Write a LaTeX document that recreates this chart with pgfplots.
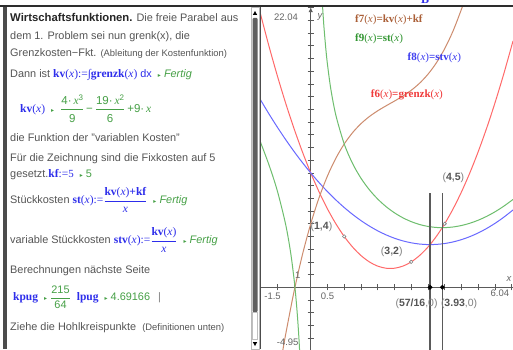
\documentclass[border=0pt]{standalone}
\usepackage{pgfplots}
\pgfplotsset{compat=1.18}
\usetikzlibrary{arrows.meta}
\usepackage{fontspec}
\setmainfont{Liberation Sans}
\newfontfamily\tiserif{Liberation Serif}
\newfontfamily\dejavu{DejaVu Sans}
\definecolor{tigray}{RGB}{85,85,85}
\definecolor{axgray}{RGB}{90,90,90}
\definecolor{tiblue}{RGB}{45,45,235}
\definecolor{tigreen}{RGB}{70,160,70}
\definecolor{cred}{RGB}{255,105,105}
\definecolor{cblue}{RGB}{105,105,255}
\definecolor{cgreen}{RGB}{110,190,110}
\definecolor{cbrown}{RGB}{205,140,110}
\definecolor{lred}{RGB}{240,60,60}
\definecolor{lblue}{RGB}{60,60,240}
\definecolor{lgreen}{RGB}{50,150,50}
\definecolor{lbrown}{RGB}{170,95,55}
\newcommand{\B}[1]{{\tiserif\bfseries #1}}
\newcommand{\X}{{\tiserif\itshape x}}
\newcommand{\Px}{{\tiserif(}\X{\tiserif)}}
\newcommand{\tri}{{\dejavu\fontsize{6}{6}\selectfont ▸}}
\newcommand{\mainf}{\fontsize{10.9}{13}\selectfont}
\newcommand{\smallf}{\fontsize{9.4}{11}\selectfont}
\newcommand{\mathf}{\fontsize{11.5}{13}\selectfont}
\newcommand{\tisup}[1]{\raisebox{3.5pt}{\fontsize{8}{8}\selectfont #1}}
\newcommand{\pl}[1]{{\color{gray}(}\textbf{#1}{\color{gray})}}
\begin{document}
\begin{tikzpicture}
\useasboundingbox (0,0) rectangle (513pt,349pt);
\fill[white] (0,0) rectangle (513pt,349pt);
\begin{axis}[
  at={(260.5pt,-1.2pt)}, anchor=south west,
  scale only axis, width=252.5pt, height=343pt,
  xmin=-1.5, xmax=6.04, ymin=-4.95, ymax=22.04,
  axis lines*=middle,
  axis line style={draw=axgray, line width=0.9pt},
  y axis line style={-{Latex[length=5pt,width=4.5pt]}},
  xtick={-1.5,-1,-0.5,0,0.5,1,1.5,2,2.5,3,3.5,4,4.5,5,5.5,6},
  ytick={-4,-3,-2,-1,0,1,2,3,4,5,6,7,8,9,10,11,12,13,14,15,16,17,18,19,20,21,22},
  xticklabels={,,}, yticklabels={,,},
  major tick length=6pt, tick align=center,
  tick style={axgray, line width=0.7pt},
  every axis plot/.append style={line width=1pt},
]
% f6 = grenzk (red)
\addplot[cred, smooth] coordinates {
(-1.5,21.5) (-1.25,19) (-1,16.667) (-0.75,14.5) (-0.5,12.5) (-0.25,10.667)
(0,9) (0.25,7.5) (0.5,6.1667) (0.75,5) (1,4) (1.25,3.1667) (1.5,2.5)
(1.75,2) (2,1.6667) (2.25,1.5) (2.5,1.5) (2.75,1.6667) (3,2) (3.25,2.5)
(3.5,3.1667) (3.75,4) (4,5) (4.25,6.1667) (4.5,7.5) (4.75,9) (5,10.667)
(5.25,12.5) (5.5,14.5) (5.75,16.667) (6,19) (6.04,19.389)};
% f8 = stv (blue)
\addplot[cblue, smooth] coordinates {
(-1.5,14.75) (-1.25,13.653) (-1,12.611) (-0.75,11.625) (-0.5,10.694) (-0.25,9.819)
(0,9) (0.25,8.236) (0.5,7.528) (0.75,6.875) (1,6.278) (1.25,5.736) (1.5,5.25)
(1.75,4.819) (2,4.444) (2.25,4.125) (2.5,3.861) (2.75,3.653) (3,3.5) (3.25,3.403)
(3.5,3.361) (3.75,3.375) (4,3.444) (4.25,3.569) (4.5,3.75) (4.75,3.986) (5,4.278)
(5.25,4.625) (5.5,5.028) (5.75,5.486) (6,6) (6.04,6.087)};
% f7 = kv + kf (brown)
\addplot[cbrown, smooth] coordinates {
(-0.85,-5.211) (-0.75,-3.719) (-0.5,-0.347) (-0.25,2.545) (0,5) (0.25,7.059)
(0.5,8.764) (0.75,10.156) (1,11.278) (1.25,12.170) (1.5,12.875) (1.75,13.434)
(2,13.889) (2.25,14.281) (2.5,14.653) (2.75,15.045) (3,15.5) (3.25,16.059)
(3.5,16.764) (3.75,17.656) (4,18.778) (4.25,20.170) (4.5,21.875) (4.6,22.654)};
% f9 = st (green), two branches
\addplot[cgreen, smooth] coordinates {
(-1.5,11.417) (-1.25,9.653) (-1,7.611) (-0.75,4.958) (-0.6,2.727) (-0.5,0.694)
(-0.45,-0.596) (-0.4,-2.162) (-0.35,-4.123) (-0.3,-6.677)};
\addplot[cgreen, smooth] coordinates {
(0.3,24.757) (0.33,23.155) (0.35,22.23) (0.38,21.019) (0.4,20.304) (0.45,18.776)
(0.5,17.528) (0.6,15.593) (0.75,13.542) (1,11.278) (1.25,9.736) (1.5,8.583)
(1.75,7.676) (2,6.944) (2.25,6.347) (2.5,5.861) (2.75,5.471) (3,5.167)
(3.25,4.941) (3.5,4.790) (3.75,4.708) (3.93,4.692) (4,4.694) (4.25,4.746)
(4.5,4.861) (4.75,5.039) (5,5.278) (5.25,5.577) (5.5,5.937) (5.75,6.356)
(6,6.833) (6.04,6.915)};
% vertical lines at 57/16 and 3.93
\addplot[axgray, line width=1.1pt] coordinates {(3.5625,7.4) (3.5625,-4.95)};
\addplot[axgray, line width=1.1pt] coordinates {(3.93,7.4) (3.93,-4.95)};
% points
\addplot[only marks, mark=*, mark size=1.7pt, mark options={draw=gray, fill=white, line width=0.6pt}] coordinates {(1,4) (3,2) (4,5)};
\addplot[only marks, mark=*, mark size=1.8pt, black] coordinates {(3.5625,0) (3.93,0)};
% labels
\begin{scope}[font=\fontsize{11}{12}\selectfont]
\node[anchor=west, lbrown] at (axis cs:1.22,21.05) {\B{f7}\Px\B{=kv}\Px\B{+kf}};
\node[anchor=west, lgreen] at (axis cs:1.22,19.53) {\B{f9}\Px\B{=st}\Px};
\node[anchor=west, lblue] at (axis cs:2.79,18.03) {\B{f8}\Px\B{=stv}\Px};
\node[anchor=west, lred] at (axis cs:1.69,15.14) {\B{f6}\Px\B{=grenzk}\Px};
\end{scope}
\begin{scope}[font=\fontsize{10.5}{12}\selectfont, text=tigray]
\node at (axis cs:4.26,8.63) {\pl{4{\color{gray},}5}};
\node at (axis cs:2.42,2.76) {\pl{3{\color{gray},}2}};
\node at (axis cs:0.32,4.77) {\pl{1{\color{gray},}4}};
\node at (axis cs:3.16,-1.26) {\pl{57/16{\color{gray}\mdseries,0}}};
\node at (axis cs:4.43,-1.26) {\pl{3.93{\color{gray}\mdseries,0}}};
\end{scope}
\begin{scope}[font=\fontsize{9.5}{11}\selectfont, text=gray!80!black]
\node[anchor=east] at (axis cs:-0.28,21.28) {22.04};
\node[anchor=east] at (axis cs:-0.26,-4.33) {-4.95};
\node[anchor=west] at (axis cs:-1.49,-0.74) {-1.5};
\node at (axis cs:0.5,-0.74) {0.5};
\node[anchor=east] at (axis cs:6.03,-0.47) {6.04};
\node[anchor=east] at (axis cs:-0.2,0.97) {1};
\node at (axis cs:0.28,21.27) {\itshape y};
\node at (axis cs:5.92,0.63) {\itshape x};
\end{scope}
\end{axis}
\begin{scope}[x=1pt,y=-1pt,shift={(0pt,349pt)}]
% frame
\node[anchor=base, tiblue, font=\fontsize{12}{12}\selectfont] at (425,3.5) {\B{B}};
\fill[gray!35!black] (0,5) rectangle (513,7);
\fill[gray!60!black] (3,7) rectangle (6.5,349);
\fill[gray!60!black] (259.3,7) rectangle (261,349);
\draw[gray!55, fill=white] (250.8,7.5) rectangle (259,349);
\fill[gray!75!black, rounded corners=1pt] (252.5,18) rectangle (257.5,312);
\draw[gray!50] (252.5,312) rectangle (257.5,339);
\fill[black] (255,11) -- (252.8,15) -- (257.2,15) -- cycle;
\fill[black] (252.8,342) -- (257.2,342) -- (255,346) -- cycle;
% text
\begin{scope}[every node/.style={anchor=base west, inner sep=0pt, text=tigray, font=\mainf}]
\node at (10,22) {{\fontsize{11.3}{13}\selectfont\textbf{\color{black!85}Wirtschaftsfunktionen.}} Die freie Parabel aus};
\node at (10,39.5) {dem 1. Problem sei nun grenk(x), die};
\node at (10,56.5) {Grenzkosten−Fkt. {\smallf(Ableitung der Kostenfunktion)}};
\node at (10,77.5) {Dann ist {\color{tiblue}\mathf\B{kv}\Px{\tiserif:=}\B{∫grenzk}\Px{\mainf\ dx}}\ \ {\color{tigreen}\tri\ \textit{Fertig}}};
\node at (10,141) {die Funktion der "variablen Kosten"};
\node at (10,161) {Für die Zeichnung sind die Fixkosten auf 5};
\node at (10,177) {gesetzt.{\color{tiblue}\mathf\B{kf}\tiserif:=\mainf 5}\ \ {\color{tigreen}\tri\ 5}};
\node at (10,273.5) {Berechnungen nächste Seite};
\node at (10,330.5) {Ziehe die Hohlkreispunkte\ \ {\smallf(Definitionen unten)}};
\end{scope}
\begin{scope}[every node/.style={anchor=west, inner sep=0pt, text=tigray, font=\mainf}]
\node at (20,109) {{\color{tiblue}\mathf\B{kv}\Px}\ \ {\color{tigreen}\tri\ \ {\mathf$\displaystyle\frac{\hbox{4·\,\X\tisup{3}}}{\hbox{\rule{0pt}{12pt}9}}\hbox{\,−\,}\frac{\hbox{19·\,\X\tisup{2}}}{\hbox{\rule{0pt}{12pt}6}}\hbox{\,+9·\,\X}$}}};
\node at (10,200) {Stückkosten {\color{tiblue}\mathf\B{st}\Px{\tiserif:=}$\displaystyle\frac{\hbox{\B{kv}\Px\B{+kf}}}{\hbox{\X}}$}\ \ {\color{tigreen}\tri\ \textit{Fertig}}};
\node at (10,240) {variable Stückkosten {\color{tiblue}\mathf\B{stv}\Px{\tiserif:=}$\displaystyle\frac{\hbox{\B{kv}\Px}}{\hbox{\X}}$}\ \ {\color{tigreen}\tri\ \textit{Fertig}}};
\node at (13,297) {{\color{tiblue}\mathf\B{kpug}}\ \ {\color{tigreen}\tri\ $\displaystyle\frac{\hbox{215}}{\hbox{64}}$}\ \ {\color{tiblue}\mathf\B{lpug}}\ \ {\color{tigreen}\tri\ 4.69166}\hspace{8pt}{\color{gray}|}};
\end{scope}
\end{scope}
\end{tikzpicture}
\end{document}
